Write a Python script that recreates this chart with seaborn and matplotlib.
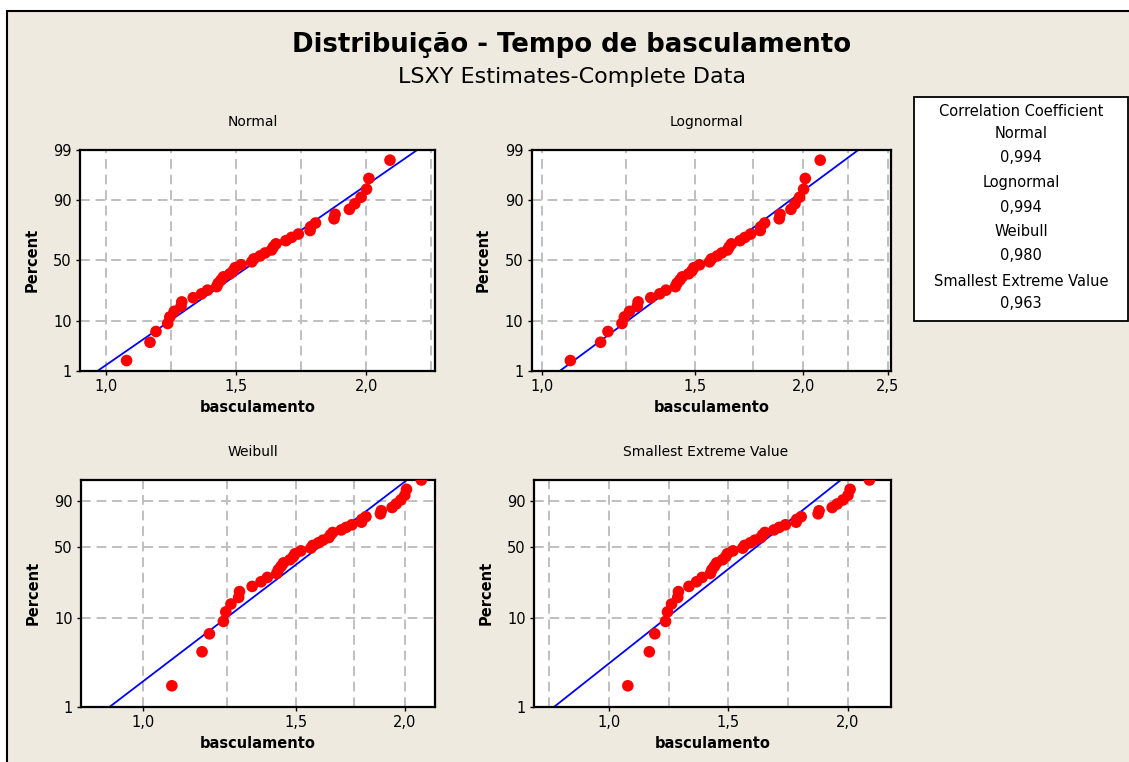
import numpy as np
import matplotlib
matplotlib.use('Agg')
import matplotlib.pyplot as plt
import matplotlib.ticker as mticker
from matplotlib.patches import Rectangle
import seaborn as sns
from statistics import NormalDist

sns.set_theme(style="white")
plt.rcParams['font.family'] = ['DejaVu Sans']
plt.rcParams['text.color'] = 'black'
plt.rcParams['axes.labelcolor'] = 'black'
plt.rcParams['xtick.color'] = 'black'
plt.rcParams['ytick.color'] = 'black'

# ---------------------------------------------------------------
# dados (tempo de basculamento, ordenado)
# ---------------------------------------------------------------
tempos = [1.079, 1.169, 1.192, 1.237, 1.245, 1.262, 1.288, 1.291, 1.335, 1.367,
          1.390, 1.425, 1.431, 1.442, 1.451, 1.476, 1.489, 1.496, 1.519, 1.560,
          1.568, 1.592, 1.611, 1.636, 1.643, 1.653, 1.691, 1.713, 1.739, 1.784,
          1.786, 1.805, 1.876, 1.880, 1.935, 1.956, 1.980, 2.001, 2.010, 2.091]

nomes = ['Normal', 'Lognormal', 'Weibull', 'Smallest Extreme Value']
corr_txt = ['0,994', '0,994', '0,980', '0,963']
# estimativas LSXY lidas das retas (loc, escala) no espaco transformado
# Normal: x = loc + esc*z ; Lognormal: ln x = loc + esc*z
# Weibull: ln x = loc + esc*w ; SEV: x = loc + esc*w
fit_loc = [1.582, 0.4437, 0.5156, 1.691]
fit_esc = [0.2637, 0.1697, 0.1313, 0.200]
pct_ticks_norm = [1, 10, 50, 90, 99]
pct_ticks_ev = [1, 10, 50, 90]
pct_grid = [10, 50, 90]

BG = '#EEEAE0'
W, H = 1129, 762

# median ranks (Benard) -> posicao de plotagem
n = len(tempos)
x = np.array(sorted(tempos))
p = (np.arange(1, n + 1) - 0.3) / (n + 0.4)

nd = NormalDist()
def t_norm(q):
    return np.array([nd.inv_cdf(v) for v in np.atleast_1d(q)])

def t_ev(q):
    q = np.atleast_1d(np.asarray(q, dtype=float))
    return np.log(-np.log(1 - q))

# painel: transformacao y, escala x, limites, ticks
paineis = [
    dict(yt=t_norm, log=False, xlim=(0.90, 2.264),
         xmaj=[1.0, 1.5, 2.0], xmin=[1.25, 1.75, 2.25], yticks=pct_ticks_norm,
         ylim=(0.01, 0.99), rect=(80, 150, 435, 370.7), tx=253),
    dict(yt=t_norm, log=True, xlim=(0.974, 2.52),
         xmaj=[1.0, 1.5, 2.0, 2.5], xmin=[1.25, 1.75, 2.25], yticks=pct_ticks_norm,
         ylim=(0.01, 0.99), rect=(531.7, 150, 890.7, 370.7), tx=706),
    dict(yt=t_ev, log=True, xlim=(0.848, 2.168),
         xmaj=[1.0, 1.5, 2.0], xmin=[1.25, 1.75], yticks=pct_ticks_ev,
         ylim=(0.01, p[-1]), rect=(81, 480, 435, 706.7), tx=253),
    dict(yt=t_ev, log=False, xlim=(0.686, 2.18),
         xmaj=[1.0, 1.5, 2.0], xmin=[0.75, 1.25, 1.75], yticks=pct_ticks_ev,
         ylim=(0.01, p[-1]), rect=(534, 480, 890.7, 706.7), tx=706),
]

fig = plt.figure(figsize=(W / 100, H / 100), dpi=100)
fig.patch.set_facecolor('white')

# moldura bege estilo Minitab
fig.patches.append(Rectangle((7 / W, -0.05), 1.2, 1 - 11 / H + 0.05,
                             transform=fig.transFigure, facecolor=BG,
                             edgecolor='black', lw=1.5, zorder=-5))

virgula = mticker.FuncFormatter(lambda v, pos: f'{v:.1f}'.replace('.', ','))

for nome, cfg, loc, esc in zip(nomes, paineis, fit_loc, fit_esc):
    x0, y0, x1, y1 = cfg['rect']
    ax = fig.add_axes([x0 / W, 1 - y1 / H, (x1 - x0) / W, (y1 - y0) / H])
    ax.set_facecolor('white')
    ax.set_axisbelow(True)

    yt = cfg['yt'](p)
    ylo, yhi = cfg['yt'](cfg['ylim'][0])[0], cfg['yt'](cfg['ylim'][1])[0]
    yl = np.array([ylo, yhi])
    xl = loc + esc * yl
    if cfg['log']:
        xl = np.exp(xl)
        ax.set_xscale('log')

    sns.lineplot(x=xl, y=yl, sort=False, color='#0000FF', lw=1.3, ax=ax, zorder=2)
    sns.scatterplot(x=x, y=yt, color='#FF0000', s=70, edgecolor='none',
                    linewidth=0, ax=ax, zorder=3)

    ax.set_xlim(cfg['xlim'])
    ax.set_ylim(ylo, yhi)

    ax.xaxis.set_major_locator(mticker.FixedLocator(cfg['xmaj']))
    ax.xaxis.set_minor_locator(mticker.FixedLocator(cfg['xmin']))
    ax.xaxis.set_major_formatter(virgula)
    ax.xaxis.set_minor_formatter(mticker.NullFormatter())
    ax.set_yticks(cfg['yt'](np.array(cfg['yticks']) / 100))
    ax.set_yticklabels([str(v) for v in cfg['yticks']])

    # grade tracejada
    for gx in cfg['xmaj'] + cfg['xmin']:
        if cfg['xlim'][0] < gx < cfg['xlim'][1]:
            ax.axvline(gx, color='#BFBFBF', lw=1.4, ls=(0, (5, 3)), zorder=0)
    for gy in pct_grid:
        ax.axhline(cfg['yt'](gy / 100)[0], color='#BFBFBF', lw=1.4,
                   ls=(0, (5, 3)), zorder=0)

    ax.tick_params(axis='both', which='major', direction='out', length=3,
                   width=1, color='black', labelsize=10.5, pad=3,
                   bottom=True, left=True)
    ax.tick_params(axis='both', which='minor', length=0)
    for s in ax.spines.values():
        s.set_color('black')
        s.set_linewidth(1.6)

    ax.set_xlabel('basculamento', fontsize=10.5, fontweight='bold', labelpad=4)
    ax.set_ylabel('Percent', fontsize=10.5, fontweight='bold', labelpad=10)

    fig.text(cfg['tx'] / W, 1 - (y0 - 28) / H, nome, ha='center',
             va='center', fontsize=10)

# titulos
fig.text(572 / W, 1 - 45 / H, 'Distribuição - Tempo de basculamento',
         ha='center', va='center', fontsize=18.7, fontweight='bold')
fig.text(572 / W, 1 - 77 / H, 'LSXY Estimates-Complete Data',
         ha='center', va='center', fontsize=16)

# caixa de coeficientes de correlacao
fig.patches.append(Rectangle((914 / W, 1 - 321 / H), (1128 - 914) / W, 224 / H,
                             transform=fig.transFigure, facecolor='white',
                             edgecolor='black', lw=1.3, zorder=1))
linhas = ['Correlation Coefficient']
for nm, cv in zip(nomes, corr_txt):
    linhas += [nm, cv]
ys = [111, 134, 158, 183, 207, 231, 255, 281, 304]
for txt, yy in zip(linhas, ys):
    fig.text(1021 / W, 1 - yy / H, txt, ha='center', va='center', fontsize=10.5)

fig.savefig('out.png', dpi=100, facecolor=fig.get_facecolor())
